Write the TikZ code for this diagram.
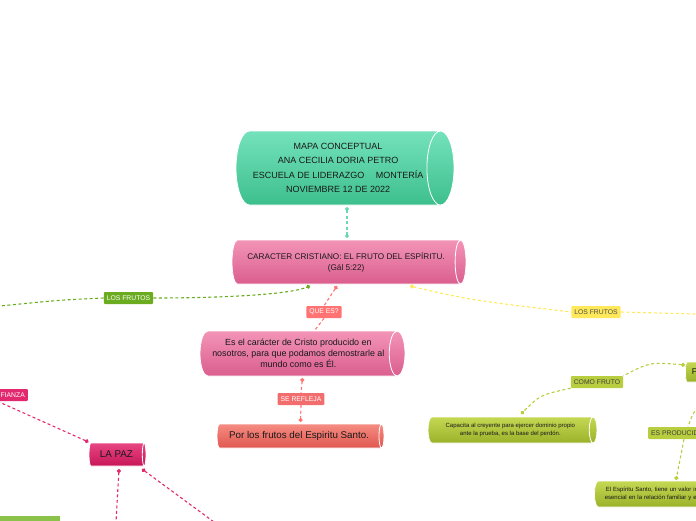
\documentclass[tikz,border=0pt]{standalone}
\usepackage{fontspec}
\setmainfont{Liberation Sans}
\usetikzlibrary{shapes.geometric,arrows.meta}

\definecolor{mentaA}{HTML}{74E2BC}
\definecolor{mentaB}{HTML}{3DBF8D}
\definecolor{rosaA}{HTML}{F394B7}
\definecolor{rosaB}{HTML}{DA5E8E}
\definecolor{salmonA}{HTML}{F58C82}
\definecolor{salmonB}{HTML}{E0574F}
\definecolor{magA}{HTML}{E84683}
\definecolor{magB}{HTML}{C71658}
\definecolor{olivoA}{HTML}{C6D853}
\definecolor{olivoB}{HTML}{9AB22A}
\definecolor{verdeA}{HTML}{8BC34A}
\definecolor{lteal}{HTML}{6AD8B0}
\definecolor{lverde}{HTML}{6AAB1F}
\definecolor{lamarillo}{HTML}{FFE95A}
\definecolor{lrojo}{HTML}{FF7373}
\definecolor{lmag}{HTML}{E2286E}
\definecolor{lolivo}{HTML}{B8CE3E}

\begin{document}
\begin{tikzpicture}[x=1pt,y=-1pt,
  cyl/.style={cylinder,shape border rotate=0,aspect=0.55,anchor=shape center,draw=white,line width=.8pt,inner sep=0pt,align=center,text=black!90},
  lbl/.style={rounded corners=1pt,inner xsep=3pt,inner ysep=0pt,minimum height=12pt,font=\fontsize{6.8}{7}\selectfont,text=white},
  conn/.style={dash pattern=on 3pt off 2.5pt,line width=1.1pt},
  dotend/.style={-{Circle[length=4pt]}},
  dotstart/.style={{Circle[length=4pt]}-},
  dotboth/.style={{Circle[length=4pt]}-{Circle[length=4pt]}}]
\useasboundingbox (0,0) rectangle (696,520);
\clip (0,0) rectangle (696,520);

% nodos principales
\node[cyl,minimum height=218pt,minimum width=74pt,top color=mentaA,bottom color=mentaB,font=\fontsize{9}{14.3}\selectfont] (titulo) at (345,168)
  {MAPA CONCEPTUAL\\ANA CECILIA DORIA PETRO\hspace*{8pt}\\ESCUELA DE LIDERAZGO\quad\ MONTERÍA\\NOVIEMBRE 12 DE 2022};
\node[cyl,minimum height=234pt,minimum width=44pt,top color=rosaA,bottom color=rosaB,font=\fontsize{8.2}{11}\selectfont] (car) at (349,262)
  {CARACTER CRISTIANO: EL FRUTO DEL ESPÍRITU.\\(Gál 5:22)};
\node[cyl,minimum height=205pt,minimum width=45pt,top color=rosaA,bottom color=rosaB,font=\fontsize{8.9}{11}\selectfont] (es) at (302.5,353.5)
  {Es el carácter de Cristo producido en\\nosotros, para que podamos demostrarle al\\mundo como es Él.};
\node[cyl,minimum height=167pt,minimum width=24pt,top color=salmonA,bottom color=salmonB,font=\fontsize{9.8}{11}\selectfont] (por) at (300.5,436)
  {Por los frutos del Espiritu Santo.};
\node[cyl,minimum height=57pt,minimum width=23pt,top color=magA,bottom color=magB,font=\fontsize{9.8}{11}\selectfont] (paz) at (117.5,454.5) {LA PAZ};
\node[cyl,minimum height=169pt,minimum width=26pt,top color=olivoA,bottom color=olivoB,font=\fontsize{6}{8.5}\selectfont] (cap) at (512.5,430)
  {Capacita al creyente para ejercer dominio propio\\ante la prueba, es la base del perdón.};
\node[cyl,anchor=west,minimum height=60pt,minimum width=20pt,top color=olivoA,bottom color=olivoB,text width=45pt,align=left,font=\fontsize{8.5}{10}\selectfont] (pfruto) at (685,372) {P};
\node[cyl,anchor=west,minimum height=150pt,minimum width=26pt,top color=olivoA,bottom color=olivoB,text width=125pt,align=left,font=\fontsize{6}{8.5}\selectfont] (esp) at (594,494)
  {\hspace*{1pt}El Espíritu Santo, tiene un valor in\\esencial en la relación familiar y e};
\node[cyl,minimum height=110pt,minimum width=30pt,fill=verdeA] (verdeabajo) at (5,530) {};

% etiquetas
\node[lbl,fill=lverde] (lfr1) at (128.5,298) {LOS FRUTOS};
\node[lbl,fill=lamarillo,text=black!70] (lfr2) at (596,312) {LOS FRUTOS};
\node[lbl,fill=lrojo] (quees) at (324,312) {QUE ES?};
\node[lbl,fill=lrojo!95!black] (refl) at (301,399) {SE REFLEJA};
\node[lbl,fill=lmag,anchor=east] (fianza) at (28,395) {FIANZA};
\node[lbl,fill=lolivo,text=black!75] (como) at (597,382) {COMO FRUTO};
\node[lbl,fill=lolivo,text=black!75,anchor=west] (prod) at (648,433) {ES PRODUCID};

\coordinate (izq) at (0,306);
\coordinate (der) at (696,314);
\coordinate (abajo1) at (116,522);
\coordinate (abajo2) at (214,522);

% conectores
\draw[conn,lteal,dotboth] ([xshift=2pt,yshift=-39pt]titulo.shape center) -- ([xshift=-2pt,yshift=24pt]car.shape center);
\draw[conn,lverde,dotend] (lfr1.east) .. controls (230,298) and (290,294) .. ([xshift=-39pt,yshift=-24pt]car.shape center);
\draw[conn,lverde] (lfr1.west) .. controls (60,300) .. (izq);
\draw[conn,lamarillo,dotstart] ([xshift=61pt,yshift=-24pt]car.shape center) .. controls (470,300) .. (lfr2.west);
\draw[conn,lamarillo] (lfr2.east) -- (der);
\draw[conn,lrojo,dotstart] ([xshift=-12pt,yshift=-24pt]car.shape center) -- (quees.north);
\draw[conn,lrojo] (quees.south) -- ([xshift=12.5pt,yshift=23.5pt]es.shape center);
\draw[conn,lrojo,dotstart] ([yshift=-24.5pt]es.shape center) -- (refl.north);
\draw[conn,lrojo,dotend] (refl.south) -- ([yshift=14pt]por.shape center);
\draw[conn,lmag,dotend] (fianza.south west) -- ([xshift=-29pt,yshift=12.5pt]paz.shape center);
\draw[conn,lmag,dotstart] ([xshift=1.5pt,yshift=-14.5pt]paz.shape center) -- (abajo1);
\draw[conn,lmag,dotstart] ([xshift=24.5pt,yshift=-14.5pt]paz.shape center) -- (abajo2);
\draw[conn,lolivo,dotstart] ([yshift=7pt]pfruto.west) .. controls (650,362) .. (como.north east);
\draw[conn,lolivo,dotend] (como.south west) .. controls (540,395) .. ([xshift=8.5pt,yshift=16pt]cap.shape center);
\draw[conn,lolivo] ([xshift=16pt]pfruto.south west) .. controls (694,410) .. ([xshift=40pt]prod.north west);
\draw[conn,lolivo,dotend] ([xshift=36pt]prod.south west) -- ([xshift=82pt,yshift=14pt]esp.west);
\end{tikzpicture}
\end{document}
